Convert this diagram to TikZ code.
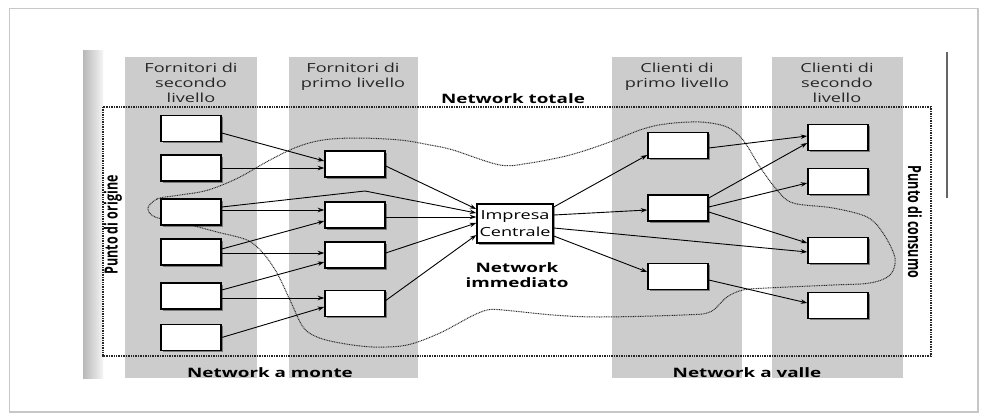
\documentclass[tikz,border=0pt]{standalone}
\usepackage{fontspec}
\setmainfont{Open Sans}[FakeStretch=1.45]
\newfontfamily\uprightfont{Open Sans}
\usetikzlibrary{arrows.meta,shadows}

\begin{document}
\begin{tikzpicture}[x=1pt,y=-1pt,
  band/.style={fill=black!20,draw=none},
  unit/.style={draw=black,line width=1.5pt,fill=white,minimum width=60pt,
    minimum height=26pt,inner sep=0pt,
    drop shadow={shadow xshift=1.6pt,shadow yshift=-1.6pt,opacity=0.4,fill=black}},
  flow/.style={line width=0.9pt,-{Stealth[length=6.5pt,width=4.5pt]}},
  hdr/.style={font=\fontsize{12.5}{15}\selectfont,text=black!85,align=center,inner sep=0pt,anchor=base},
  tag/.style={font=\fontsize{13}{15}\selectfont\bfseries,align=center,inner sep=0pt,anchor=base},
  sidetag/.style={font=\uprightfont\fontsize{12.5}{15}\selectfont\bfseries,inner sep=0pt},
  rim/.style={line width=1.2pt,dash pattern=on 1pt off 0.7pt,black!85},
  loop/.style={line width=1pt,dash pattern=on 0.9pt off 0.8pt,black!85}
]
\useasboundingbox (0,0) rectangle (985,417);
\fill[white] (0,0) rectangle (985,417);
% page border
\draw[black!22,line width=1.5pt] (9.5,8.5) rectangle (978,412);

% scanned page edge and column bands
\shade[left color=black!28,right color=black!4] (83,51) rectangle (103,378);
\fill[band] (125,57) rectangle (257,378);
\fill[band] (289,57) rectangle (418,378);
\fill[band] (612,57) rectangle (742,378);
\fill[band] (772,57) rectangle (903,378);
\draw[black!60,line width=1.2pt] (947,52) -- (947,198);

% column headings (anchored on the baseline of the last line)
\node[hdr] (h1) at (191,103) {Fornitori di\\secondo\\livello};
\node[hdr] (h2) at (353,88) {Fornitori di\\primo livello};
\node[hdr] (h3) at (677,88) {Clienti di\\primo livello};
\node[hdr] (h4) at (837,103) {Clienti di\\secondo\\livello};

% total network frame and immediate network outline
\draw[rim] (103,107) rectangle (931,356);
\draw[loop] plot[smooth cycle,tension=0.55] coordinates {
  (148,208) (157,199) (173,196) (200,192) (217,187) (240,177) (270,160)
  (297,147) (323,140) (357,138) (400,140) (430,145) (453,150) (500,165)
  (530,163) (570,155) (607,143) (640,130) (665,124) (700,122) (727,127)
  (743,140) (760,167) (777,190) (793,203) (833,208) (867,217) (883,233)
  (895,258) (890,275) (870,283) (833,285) (767,288) (743,290) (727,297)
  (710,312) (683,315) (600,317) (553,315) (503,310) (487,310) (470,317)
  (440,333) (407,345) (373,347) (340,343) (317,337) (303,327) (290,300)
  (277,273) (263,253) (247,240) (217,232) (183,223) (155,217)};

\node[tag] (nt) at (513,104) {Network totale};
\node[tag] (ni) at (517,287) {Network\\immediato};
\node[tag] (nm) at (270,377) {Network a monte};
\node[tag] (nv) at (747,377) {Network a valle};
\node[sidetag,rotate=90] (po) at (113,225) {\scalebox{1}[1.45]{Punto di origine}};
\node[sidetag,rotate=-90] (pc) at (915,222) {\scalebox{1}[1.45]{Punto di consumo}};

% second-tier suppliers
\node[unit] (s1) at (191,128.5) {};
\node[unit] (s2) at (191,168) {};
\node[unit] (s3) at (191,212) {};
\node[unit] (s4) at (191,252) {};
\node[unit] (s5) at (191,296) {};
\node[unit] (s6) at (191,337.5) {};
% first-tier suppliers
\node[unit] (p1) at (355,164) {};
\node[unit] (p2) at (355,215) {};
\node[unit] (p3) at (355,255) {};
\node[unit] (p4) at (355,303.5) {};
% focal company
\node[unit,minimum width=76pt,minimum height=39pt,align=center,
  font=\fontsize{12.5}{16.5}\selectfont] (ic) at (515,223.5) {Impresa\\Centrale};
% first-tier customers
\node[unit] (c1) at (678,145.5) {};
\node[unit] (c2) at (678,208) {};
\node[unit] (c3) at (678,276.5) {};
% second-tier customers
\node[unit] (d1) at (838,137.5) {};
\node[unit] (d2) at (838,181.5) {};
\node[unit] (d3) at (838,250.5) {};
\node[unit] (d4) at (838,305.5) {};

% upstream flows
\draw[flow] ([yshift=-4.5pt]s1.east) -- ([yshift=3pt]p1.west);
\draw[flow] (s2.east) -- ([yshift=-4pt]p1.west);
\coordinate (kink) at (365,191);
\draw[flow] ([yshift=5pt]s3.east) -- (kink) -- ([yshift=10.5pt]ic.west);
\draw[flow] ([yshift=2pt]s3.east) -- ([yshift=5pt]p2.west);
\draw[flow] ([yshift=3pt]s4.east) -- ([yshift=-6pt]p2.west);
\draw[flow] ([yshift=-1pt]s4.east) -- ([yshift=2pt]p3.west);
\draw[flow] ([yshift=6pt]s5.east) -- ([yshift=-7pt]p3.west);
\draw[flow] ([yshift=-2pt]s5.east) -- ([yshift=5.5pt]p4.west);
\draw[flow] (s6.east) -- ([yshift=-3.5pt]p4.west);
\draw[flow] ([yshift=-2pt]p1.east) -- ([yshift=14.5pt]ic.west);
\draw[flow] ([yshift=-2pt]p2.east) -- ([yshift=6.5pt]ic.west);
\draw[flow] ([yshift=2pt]p3.east) -- ([yshift=0.5pt]ic.west);
\draw[flow] ([yshift=3pt]p4.east) -- ([yshift=-11.5pt]ic.west);

% downstream flows
\draw[flow] ([yshift=16.5pt]ic.east) -- ([yshift=-9.5pt]c1.west);
\draw[flow] ([yshift=8.5pt]ic.east) -- ([yshift=-2pt]c2.west);
\draw[flow] ([yshift=-4.5pt]ic.east) -- ([yshift=-1.5pt]d3.west);
\draw[flow] ([yshift=-12.5pt]ic.east) -- ([yshift=4.5pt]c3.west);
\draw[flow] ([yshift=-2.5pt]c1.east) -- ([yshift=1.5pt]d1.west);
\draw[flow] ([yshift=10pt]c2.east) -- ([yshift=-5.5pt]d1.west);
\draw[flow] ([yshift=1pt]c2.east) -- ([yshift=-1.5pt]d2.west);
\draw[flow] ([yshift=-4pt]c2.east) -- ([yshift=7.5pt]d3.west);
\draw[flow] ([yshift=-3.5pt]c3.east) -- ([yshift=2.5pt]d4.west);
\end{tikzpicture}
\end{document}
